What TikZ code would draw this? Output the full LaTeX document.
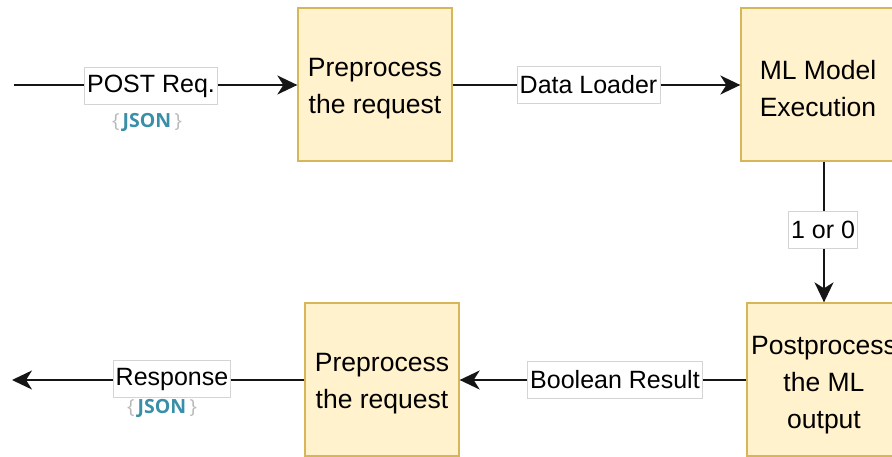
\documentclass[tikz,border=0pt]{standalone}
\usepackage{fontspec}
\setmainfont{Liberation Sans}
\newfontfamily\logofont{Open Sans}
\usetikzlibrary{arrows.meta}

\definecolor{boxfill}{HTML}{FFF2CC}
\definecolor{boxline}{HTML}{D6B656}
\definecolor{edgeline}{HTML}{151515}
\definecolor{labelline}{HTML}{D4D4D4}
\definecolor{jsonteal}{HTML}{3A8FA8}
\definecolor{bracegray}{HTML}{B8B8B8}

\tikzset{
  stage/.style={draw=boxline, fill=boxfill, line width=1.3pt,
    minimum width=154pt, minimum height=153pt, inner sep=0pt,
    align=center, font=\fontsize{26.5}{37}\selectfont},
  flow/.style={draw=edgeline, line width=1.9pt,
    -{Stealth[length=20pt, width=19pt, inset=6pt]}},
  edgelabel/.style={draw=labelline, fill=white, line width=0.6pt,
    inner xsep=2.5pt, inner ysep=0pt, minimum height=37pt,
    font=\fontsize{25}{30}\selectfont},
  jsontag/.style={inner sep=0pt, font=\logofont\fontsize{19.5}{22}\selectfont}
}
\newcommand{\jsonmark}{\textcolor{bracegray}{\{}\,\textcolor{jsonteal}{\bfseries JSON}\,\textcolor{bracegray}{\}}}

\begin{document}
\begin{tikzpicture}[x=1pt, y=-1pt]
  \useasboundingbox (0,0) rectangle (892,457);
  \clip (0,0) rectangle (892,457);

  % processing stages
  \node[stage] (pre)  at (375,84.5) {\rule{0pt}{27pt}Preprocess\\the request};
  \node[stage] (ml)   at (818,84.5) {\rule{0pt}{27pt}ML Model\\Execution};
  \node[stage] (post) at (824,379.5) {\rule{0pt}{30pt}Postprocess\\the ML\\output};
  \node[stage] (resp) at (382,379.5) {\rule{0pt}{27pt}Preprocess\\the request};

  % free ends of the request and response lines
  \coordinate (in)  at (14,85);
  \coordinate (out) at (12,380);

  % connectors
  \draw[flow] (in) -- (pre.west |- in);
  \draw[flow] (pre.east |- in) -- (ml.west |- in);
  \draw[flow] (post.north |- ml.south) -- (post.north);
  \draw[flow] (post.west |- out) -- (resp.east |- out);
  \draw[flow] (resp.west |- out) -- (out);

  % connector labels
  \node[edgelabel] (lreq)  at (151,86)  {POST Req.};
  \node[edgelabel] (lload) at (588.5,85) {Data Loader};
  \node[edgelabel] (lbit)  at (823,230) {1 or 0};
  \node[edgelabel] (lbool) at (615,380) {Boolean Result};
  \node[edgelabel] (lres)  at (172,379) {Response};

  % payload format tags
  \node[jsontag] (jreq) at (147,122) {\jsonmark};
  \node[jsontag] (jres) at (162,408) {\jsonmark};
\end{tikzpicture}
\end{document}
